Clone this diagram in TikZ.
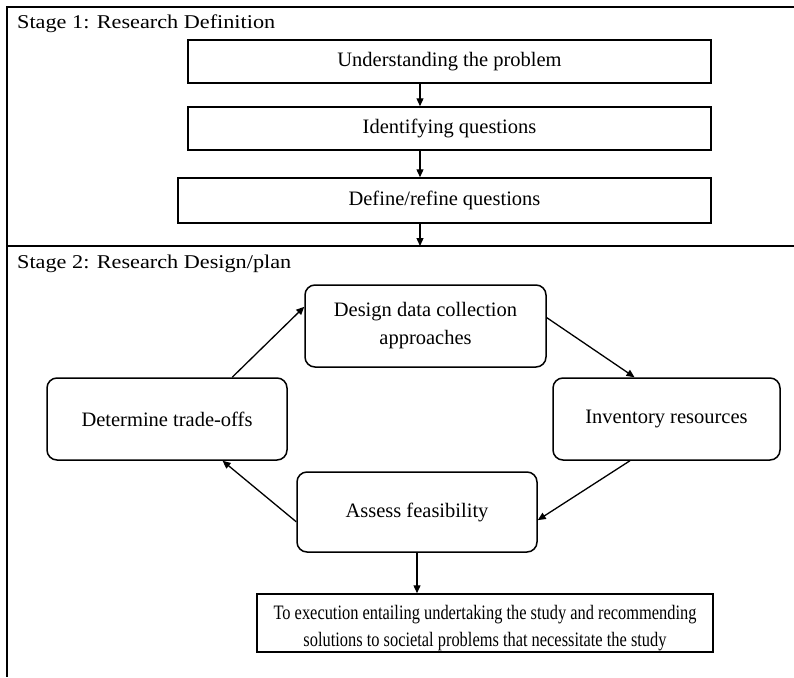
\documentclass[tikz,border=0pt]{standalone}
\usepackage{fontspec}
\setmainfont{Liberation Serif}
\newfontfamily\stagefont[FakeStretch=1.14]{Liberation Serif}
\newfontfamily\condfont[FakeStretch=0.8]{Liberation Serif}
\usetikzlibrary{arrows.meta,calc}
\tikzset{
  frame/.style={line width=1.9pt},
  sqbox/.style={draw,line width=1.5pt,minimum width=#1,inner sep=0pt,align=center},
  rbox/.style={draw,line width=1.5pt,rounded corners=10pt,inner sep=0pt,align=center},
  arr/.style={line width=1.3pt,-{Triangle[length=8pt,width=7pt]}},
  stagelabel/.style={anchor=west,inner sep=0pt,font=\stagefont\fontsize{19.5}{22}\selectfont},
  boxtext/.style={font=\fontsize{20.5}{28}\selectfont},
}
\begin{document}
\begin{tikzpicture}[x=1pt,y=-1pt]
\useasboundingbox (0,0) rectangle (794,677);
% frame
\coordinate (tl) at (7,7);
\coordinate (tr) at (794,7);
\coordinate (ml) at (7,246);
\coordinate (mr) at (794,246);
\coordinate (bl) at (7,677);
\draw[frame] (tr) -- (tl) -- (bl);
\draw[frame] (ml) -- (mr);
\node[stagelabel] (s1) at (17,24) {Stage 1: Research Definition};
\node[stagelabel] (s2) at (17,264) {Stage 2: Research Design/plan};
% stage 1 boxes
\node[sqbox=523pt,minimum height=43pt,boxtext] (b1) at (449.5,61.5) {Understanding the problem};
\node[sqbox=523pt,minimum height=43pt,boxtext] (b2) at (449.5,128.5) {Identifying questions};
\node[sqbox=533pt,minimum height=45pt,boxtext] (b3) at (444.5,200.5) {Define/refine questions};
\coordinate (ax) at (420,0);
\coordinate (div) at (420,246);
\draw[arr] (b1.south -| ax) -- (b2.north -| ax);
\draw[arr] (b2.south -| ax) -- (b3.north -| ax);
\draw[arr] (b3.south -| ax) -- (div);
% stage 2 boxes
\node[rbox,minimum width=241pt,minimum height=82pt,boxtext] (des) at (425.5,326) {Design data collection\\approaches};
\node[rbox,minimum width=240pt,minimum height=82pt,boxtext] (det) at (167,419) {Determine trade-offs};
\node[rbox,minimum width=227pt,minimum height=82pt,boxtext] (inv) at (666.5,419) {Inventory resources};
\node[rbox,minimum width=240pt,minimum height=80pt,boxtext] (ass) at (417,512) {Assess feasibility};
\node[sqbox=456pt,minimum height=58pt,font=\condfont\fontsize{20.5}{27}\selectfont] (fin) at (485,623) {\rule{0pt}{24pt}To execution entailing undertaking the study and recommending\\solutions to societal problems that necessitate the study};
% cycle arrows
\draw[arr] ($(det.north west)!0.77!(det.north east)$) -- ($(des.north west)!0.27!(des.south west)$);
\draw[arr] ($(des.north east)!0.40!(des.south east)$) -- ($(inv.north west)!0.36!(inv.north east)$);
\draw[arr] ($(inv.south west)!0.34!(inv.south east)$) -- ($(ass.north east)!0.60!(ass.south east)$);
\draw[arr] ($(ass.north west)!0.62!(ass.south west)$) -- ($(det.south west)!0.73!(det.south east)$);
\draw[arr] (ass.south) -- (ass.south |- fin.north);
\end{tikzpicture}
\end{document}
